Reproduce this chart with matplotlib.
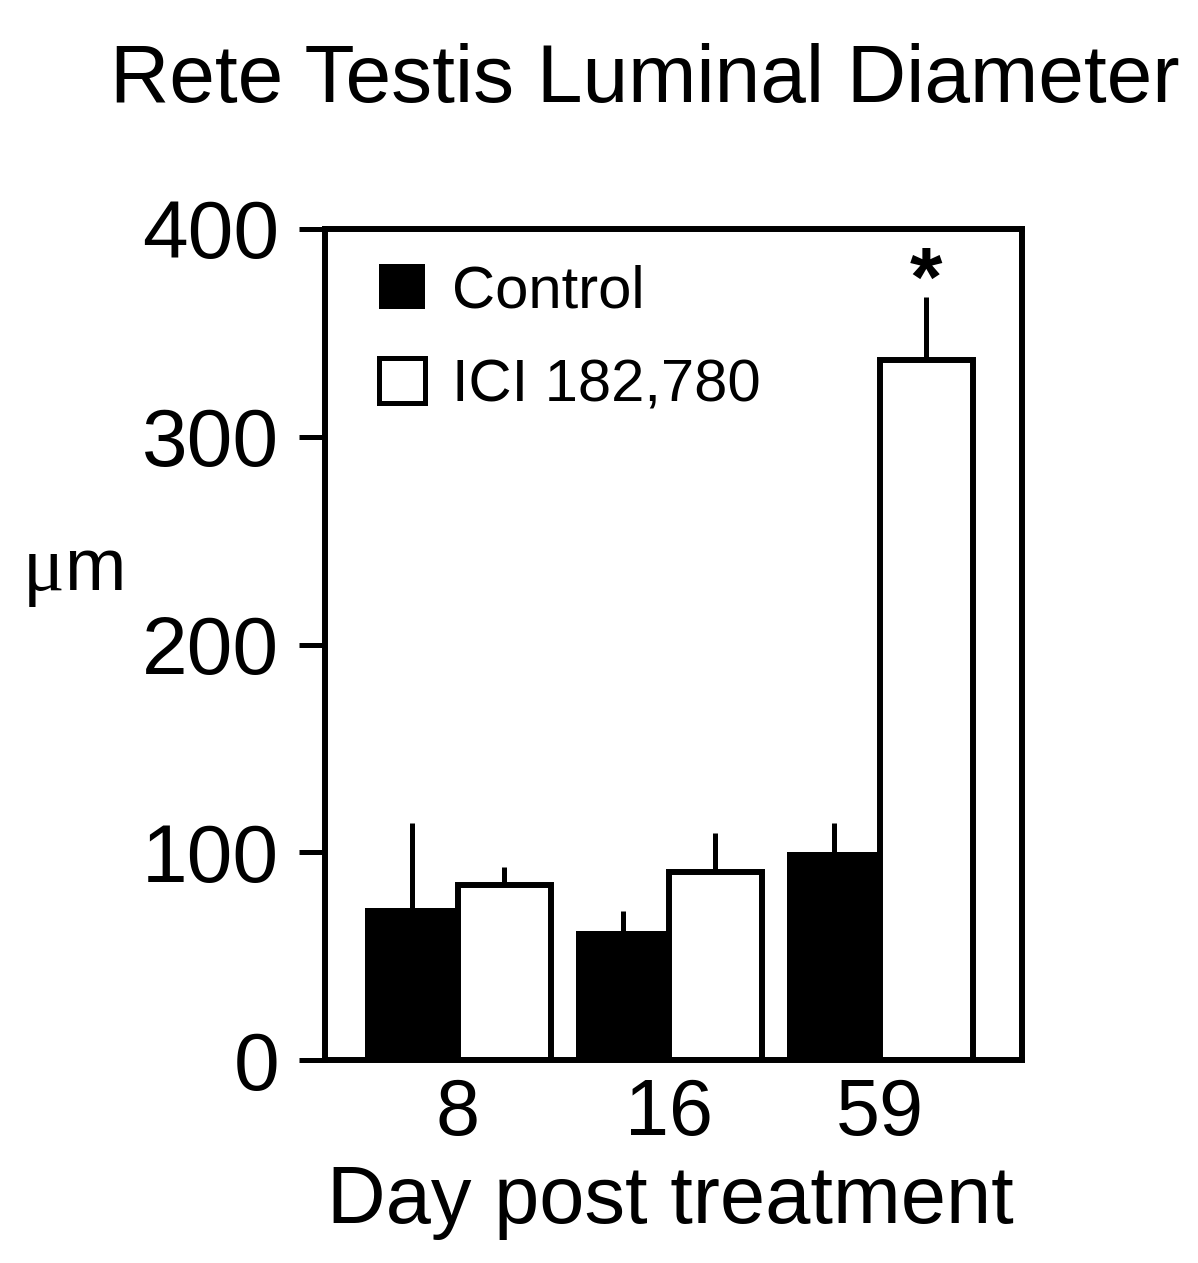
import numpy as np
import matplotlib
matplotlib.use('Agg')
import matplotlib.pyplot as plt
from matplotlib.patches import Patch

plt.rcParams['font.family'] = ['Liberation Sans', 'DejaVu Sans']

# data
days = ['8', '16', '59']
control = [73.2, 62.1, 100.1]
control_err = [40.9, 9.6, 14.0]
ici = [84.2, 90.5, 337.0]
ici_err = [8.7, 18.8, 30.3]

fig = plt.figure(figsize=(11.98, 12.63), dpi=100)
ax = fig.add_axes([0.2713, 0.1607, 0.5818, 0.658])

x = np.arange(len(days))
w = 0.44

# error bars (upper only), drawn under the bars
ax.errorbar(x - w/2, control, yerr=[np.zeros(3), control_err], fmt='none',
            ecolor='black', elinewidth=3.6, capsize=0, zorder=1)
ax.errorbar(x + w/2, ici, yerr=[np.zeros(3), ici_err], fmt='none',
            ecolor='black', elinewidth=3.6, capsize=0, zorder=1)

ax.bar(x - w/2, control, w, color='black', edgecolor='black', linewidth=0, zorder=2)
ax.bar(x + w/2, ici, w, color='white', edgecolor='black', linewidth=4.3, zorder=2)

# significance marker
ax.text(x[2] + w/2, 363, '*', ha='center', va='baseline', fontsize=60,
        fontweight='bold')

ax.set_xlim(-0.630, 2.673)
ax.set_ylim(0, 400)
ax.set_yticks([0, 100, 200, 300, 400])
ax.set_xticks(x)
ax.set_xticklabels(days)
ax.tick_params(axis='y', length=19, width=3.6, labelsize=59, pad=14)
ax.tick_params(axis='x', length=0, labelsize=57, pad=12)
for s in ax.spines.values():
    s.set_linewidth(4.3)

ax.set_xlabel('Day post treatment', fontsize=58.5)
ax.xaxis.set_label_coords(0.495, -0.196)
ax.xaxis.label.set_va('baseline')

# y unit label: serif mu + sans m
ax.text(-0.3745, 0.5656, 'μ', transform=ax.transAxes, ha='right',
        va='baseline', fontsize=56, family='Liberation Serif')
ax.text(-0.3745, 0.5656, 'm', transform=ax.transAxes, ha='left',
        va='baseline', fontsize=53)

handles = [Patch(facecolor='black', edgecolor='black', linewidth=0),
           Patch(facecolor='white', edgecolor='black', linewidth=3.6)]
ax.legend(handles, ['Control', 'ICI 182,780'], loc='upper left',
          bbox_to_anchor=(0.0, 1.0225), frameon=False, fontsize=43,
          handlelength=0.78, handleheight=0.78, handletextpad=0.45,
          labelspacing=0.65)

fig.text(0.538, 0.9192, 'Rete Testis Luminal Diameter', ha='center',
         va='baseline', fontsize=59)

fig.savefig('out.png', dpi=100)
